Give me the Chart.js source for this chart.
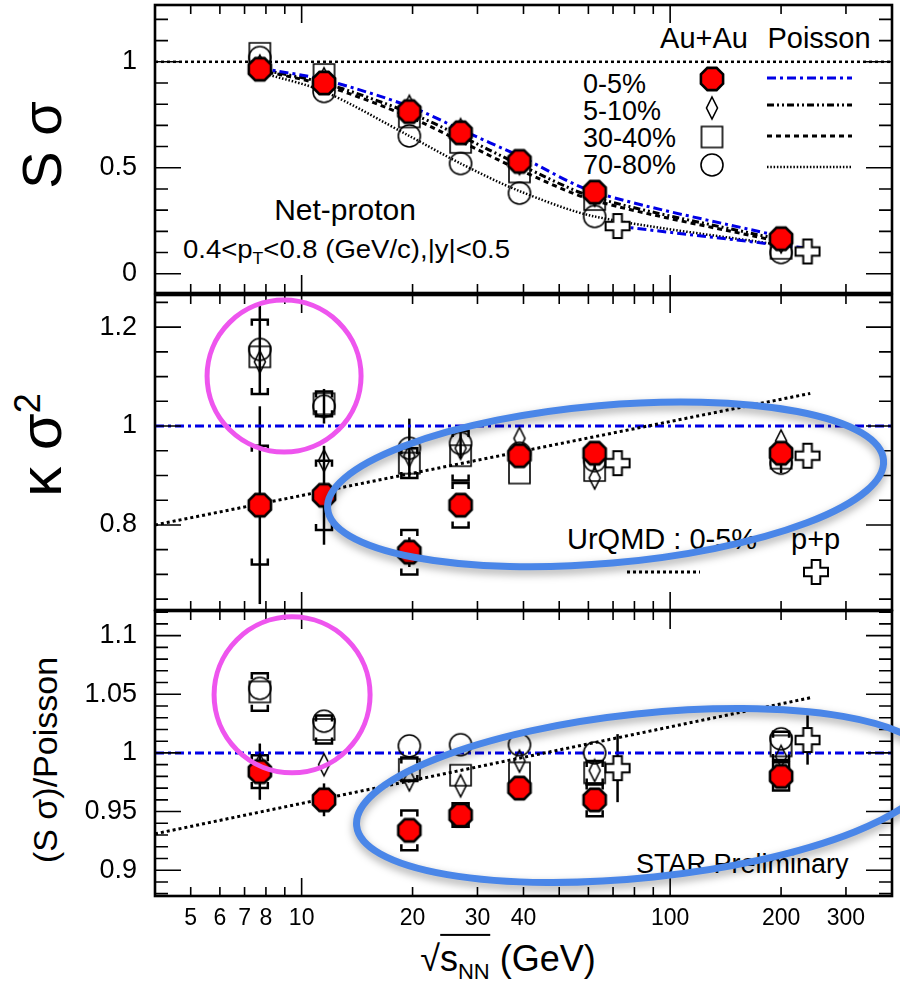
<!DOCTYPE html>
<html>
<head>
<meta charset="utf-8">
<script src="https://cdn.jsdelivr.net/npm/chart.js@4.4.1/dist/chart.umd.min.js"></script>
<style>
  html, body { margin: 0; padding: 0; background: #fff; }
  #wrap { position: relative; width: 900px; height: 992px; overflow: hidden; font-family: "Liberation Sans", Arial, sans-serif; }
  #wrap canvas { position: absolute; left: 0; top: 0; z-index: 1; }
  .t { position: absolute; white-space: nowrap; color: #000; z-index: 0; line-height: 1; }
  .c { transform: translate(-50%, -50%); }
  .l { transform: translate(0, -50%); }
  .r { transform: translate(-50%, -50%) rotate(-90deg); }
</style>
</head>
<body>
<div id="wrap">
  <canvas id="ChartSkew" width="900" height="992"></canvas>
  <canvas id="ChartKurt" width="900" height="992"></canvas>
  <canvas id="ChartRatio" width="900" height="992"></canvas>

  <div class="t c" style="left:704px; top:38px; font-size:29px;">Au+Au</div>
  <div class="t c" style="left:819px; top:38px; font-size:29px;">Poisson</div>
  <div class="t l" style="left:583px; top:84px; font-size:27px;">0-5%</div>
  <div class="t l" style="left:583px; top:111px; font-size:27px;">5-10%</div>
  <div class="t l" style="left:583px; top:138px; font-size:27px;">30-40%</div>
  <div class="t l" style="left:583px; top:165px; font-size:27px;">70-80%</div>
  <div class="t c" style="left:345px; top:210px; font-size:30px;">Net-proton</div>
  <div class="t l" style="left:183px; top:252px; font-size:25px; transform:translate(0,-50%) scaleX(1.1); transform-origin:left center;">0.4&lt;p<sub style="font-size:16px">T</sub>&lt;0.8 (GeV/c),|y|&lt;0.5</div>
  <div class="t l" style="left:567px; top:539px; font-size:29px;">UrQMD : 0-5%</div>
  <div class="t l" style="left:791px; top:539px; font-size:29px;">p+p</div>
  <div class="t l" style="left:636px; top:864px; font-size:27px;">STAR Preliminary</div>

  <div class="t r" style="left:42px; top:145px; font-size:56px;">S σ</div>
  <div class="t r" style="left:40px; top:445px; font-size:60px;">κ σ<sup style="font-size:36px">2</sup></div>
  <div class="t r" style="left:45px; top:760px; font-size:34px;">(S σ)/Poisson</div>
  <div class="t c" style="left:508px; top:962px; font-size:36px;">√<span style="border-top:2px solid #000; padding-top:2px;">s<sub style="font-size:22px">NN</sub></span> (GeV)</div>
</div>

<script>
// beam energies (GeV)
var energies = [7.7, 11.5, 19.6, 27, 39, 62.4, 200];
var ppEnergies = [72, 236];
var xMin = 4, xMax = 400;
var xTickLabels = [5, 6, 7, 8, 10, 20, 30, 40, 100, 200, 300];

// S sigma (top)
var ssCentral = [0.965, 0.90, 0.765, 0.665, 0.53, 0.385, 0.165];
var ss510 = [0.98, 0.92, 0.79, 0.68, 0.52, 0.37, 0.15];
var ss3040 = [1.04, 0.94, 0.74, 0.62, 0.48, 0.35, 0.12];
var ss7080 = [1.02, 0.86, 0.65, 0.52, 0.38, 0.27, 0.10];
var ssPp = [0.225, 0.105];
var ssPoisCentral = [0.97, 0.915, 0.79, 0.68, 0.555, 0.385, 0.175];
var ssPois510 = [0.965, 0.90, 0.76, 0.65, 0.515, 0.36, 0.16];
var ssPois3040 = [0.96, 0.89, 0.74, 0.625, 0.49, 0.345, 0.15];
var ssPois7080 = [0.95, 0.86, 0.65, 0.52, 0.39, 0.27, 0.135];
var ssPoisPp = [0.224, 0.12];
var ssTicks = [0, 0.5, 1];

// kappa sigma^2 (middle)
var ksCentral = [0.84, 0.86, 0.745, 0.84, 0.94, 0.945, 0.945];
var ksCentralStat = [0.2, 0.1, 0.03, 0.02, 0.015, 0.015, 0.015];
var ksCentralSys = [0.12, 0.07, 0.045, 0.045, 0.012, 0.012, 0.012];
var ks510 = [1.13, 0.93, 0.94, 0.955, 0.975, 0.895, 0.97];
var ks3040 = [1.14, 1.045, 0.925, 0.94, 0.905, 0.91, 0.935];
var ks3040Sys = [0.075, 0.025, 0.03, 0.05, 0, 0, 0];
var ks7080 = [1.155, 1.04, 0.955, 0.965, 0.945, 0.93, 0.925];
var ks7080Stat = [0.09, 0.035, 0.06, 0.03, 0.02, 0.02, 0.02];
var ksPp = [0.925, 0.94];
var urqmdEnergies = [4, 240];
var ksUrqmd = [0.80, 1.066];
var ksTicks = [0.8, 1, 1.2];

// (S sigma)/Poisson (bottom)
var rCentral = [0.984, 0.960, 0.934, 0.947, 0.970, 0.960, 0.980];
var rCentralStat = [0.024, 0.014, 0.004, 0.004, 0.004, 0.004, 0.004];
var rCentralSys = [0.014, 0, 0.017, 0.01, 0, 0.014, 0.012];
var r510 = [0.99, 0.99, 0.977, 0.972, 0.993, 0.985, 0.997];
var r3040 = [1.052, 1.02, 0.986, 0.981, 0.983, 0.983, 1.006];
var r3040Sys = [0.016, 0.012, 0.01, 0, 0, 0.01, 0.012];
var r7080 = [1.055, 1.027, 1.006, 1.007, 1.007, 1.0, 1.012];
var rPp = [0.987, 1.011];
var rPpStat = [0.029, 0.021];
var rUrqmd = [0.931, 1.047];
var rTicks = [0.9, 0.95, 1, 1.05, 1.1];

Chart.defaults.font.family = '"Liberation Sans", Arial, sans-serif';

function makeMarker(kind, size) {
  var w = size + 6;
  var c = document.createElement('canvas');
  c.width = w; c.height = w;
  var g = c.getContext('2d');
  var r = size / 2;
  g.translate(w / 2, w / 2);
  g.strokeStyle = '#000';
  g.lineWidth = 1.6;
  g.beginPath();
  if (kind === 'octagon') {
    for (var i = 0; i < 8; i++) {
      var t = Math.PI / 8 + i * Math.PI / 4;
      g.lineTo(r * Math.cos(t), r * Math.sin(t));
    }
    g.closePath();
    g.fillStyle = '#ff0000';
    g.fill();
    g.lineWidth = 2.6;
    g.stroke();
  } else if (kind === 'diamond') {
    g.moveTo(0, -r); g.lineTo(r * 0.5, 0); g.lineTo(0, r); g.lineTo(-r * 0.5, 0);
    g.closePath(); g.stroke();
  } else if (kind === 'square') {
    g.rect(-r, -r, size, size); g.stroke();
  } else if (kind === 'circle') {
    g.arc(0, 0, r, 0, Math.PI * 2); g.stroke();
  } else if (kind === 'cross') {
    var a = r * 0.36;
    g.moveTo(-a, -r); g.lineTo(a, -r); g.lineTo(a, -a); g.lineTo(r, -a); g.lineTo(r, a);
    g.lineTo(a, a); g.lineTo(a, r); g.lineTo(-a, r); g.lineTo(-a, a); g.lineTo(-r, a);
    g.lineTo(-r, -a); g.lineTo(-a, -a); g.closePath();
    g.fillStyle = '#fff'; g.fill();
    g.lineWidth = 2; g.stroke();
  }
  return c;
}

var mRed = makeMarker('octagon', 24);
var mDiamond = makeMarker('diamond', 22);
var mSquare = makeMarker('square', 21);
var mCircle = makeMarker('circle', 22);
var mCross = makeMarker('cross', 24);

var BLUE = '#0000e6';
var dashBlue = [9, 4, 3, 4];
var dashDotDot = [7, 3, 2, 3, 2, 3];
var dashShort = [5, 4];
var dotFine = [1.5, 1.8];

function pts(xs, ys) {
  return xs.map(function (x, i) { return { x: x, y: ys[i] }; });
}
function markerSet(xs, ys, img) {
  return { data: pts(xs, ys), pointStyle: img, pointRadius: 10, showLine: false, borderWidth: 0 };
}
function lineSet(xs, ys, color, dash, width, tension) {
  return { data: pts(xs, ys), showLine: true, pointRadius: 0, borderColor: color, borderDash: dash,
           borderWidth: width, tension: tension || 0, fill: false };
}

var xMinorTicks = [];
[1, 10, 100].forEach(function (d) {
  for (var k = 1; k <= 9; k++) {
    var v = k * d;
    if (v >= xMin && v <= xMax) xMinorTicks.push(v);
  }
});

function drawErrors(chart, specs) {
  var ctx = chart.ctx, sx = chart.scales.x, sy = chart.scales.y, a = chart.chartArea;
  ctx.save();
  ctx.beginPath();
  ctx.rect(a.left, a.top, a.right - a.left, a.bottom - a.top);
  ctx.clip();
  ctx.strokeStyle = '#000';
  ctx.lineWidth = 2.5;
  specs.forEach(function (s) {
    for (var i = 0; i < s.xs.length; i++) {
      var px = sx.getPixelForValue(s.xs[i]);
      if (s.stat && s.stat[i]) {
        ctx.beginPath();
        ctx.moveTo(px, sy.getPixelForValue(s.ys[i] + s.stat[i]));
        ctx.lineTo(px, sy.getPixelForValue(s.ys[i] - s.stat[i]));
        ctx.stroke();
      }
      if (s.sys && s.sys[i]) {
        var top = sy.getPixelForValue(s.ys[i] + s.sys[i]);
        var bot = sy.getPixelForValue(s.ys[i] - s.sys[i]);
        ctx.beginPath();
        ctx.moveTo(px - 8, top + 6); ctx.lineTo(px - 8, top); ctx.lineTo(px + 8, top); ctx.lineTo(px + 8, top + 6);
        ctx.moveTo(px - 8, bot - 6); ctx.lineTo(px - 8, bot); ctx.lineTo(px + 8, bot); ctx.lineTo(px + 8, bot - 6);
        ctx.stroke();
      }
    }
  });
  ctx.restore();
}

function drawFrame(chart, yStep, yMajors) {
  var ctx = chart.ctx, sx = chart.scales.x, sy = chart.scales.y, a = chart.chartArea;
  ctx.save();
  ctx.strokeStyle = '#000';
  ctx.lineWidth = 1.6;
  ctx.beginPath();
  xMinorTicks.forEach(function (v) {
    var p = sx.getPixelForValue(v);
    var len = (v === 10 || v === 100) ? 18 : 9;
    ctx.moveTo(p, a.bottom); ctx.lineTo(p, a.bottom - len);
    ctx.moveTo(p, a.top); ctx.lineTo(p, a.top + len);
  });
  var k0 = Math.ceil(sy.min / yStep - 1e-6), k1 = Math.floor(sy.max / yStep + 1e-6);
  for (var k = k0; k <= k1; k++) {
    var v = k * yStep;
    var major = yMajors.some(function (m) { return Math.abs(m - v) < yStep / 10; });
    var len = major ? 26 : 13;
    var p = sy.getPixelForValue(v);
    ctx.moveTo(a.left, p); ctx.lineTo(a.left + len, p);
    ctx.moveTo(a.right, p); ctx.lineTo(a.right - len, p);
  }
  ctx.stroke();
  ctx.lineWidth = 2.6;
  ctx.strokeRect(a.left, a.top, a.right - a.left, a.bottom - a.top);
  ctx.restore();
}

function drawEllipse(chart, e) {
  var ctx = chart.ctx;
  var cx = chart.scales.x.getPixelForValue(e.x), cy = chart.scales.y.getPixelForValue(e.y);
  ctx.save();
  ctx.shadowColor = e.shadow ? 'rgba(0,0,0,0.35)' : 'transparent';
  ctx.shadowBlur = e.shadow ? 8 : 0;
  ctx.shadowOffsetY = e.shadow ? 4 : 0;
  ctx.strokeStyle = e.color;
  ctx.lineWidth = e.width;
  ctx.beginPath();
  ctx.ellipse(cx, cy, e.rx, e.ry, e.rot * Math.PI / 180, 0, Math.PI * 2);
  ctx.stroke();
  ctx.restore();
}

function legendLine(ctx, x0, x1, y, color, dash, width) {
  ctx.save();
  ctx.strokeStyle = color; ctx.setLineDash(dash); ctx.lineWidth = width;
  ctx.beginPath(); ctx.moveTo(x0, y); ctx.lineTo(x1, y); ctx.stroke();
  ctx.restore();
}
function legendMark(ctx, img, x, y) {
  ctx.drawImage(img, x - img.width / 2, y - img.height / 2);
}

function panelPlugin(yStep, yMajors, errors, extra) {
  return {
    id: 'panel',
    beforeDatasetsDraw: function (chart) { drawErrors(chart, errors); },
    afterDraw: function (chart) {
      drawFrame(chart, yStep, yMajors);
      if (extra) extra(chart);
    }
  };
}

function panelOptions(yMin, yMax, yLabels, padTop, padBottom, showX) {
  return {
    responsive: false,
    animation: false,
    events: [],
    layout: { autoPadding: false, padding: { left: 0, right: 8, top: padTop, bottom: padBottom } },
    plugins: { legend: { display: false }, title: { display: false }, tooltip: { enabled: false } },
    scales: {
      x: {
        type: 'logarithmic', min: xMin, max: xMax, display: showX,
        grid: { display: false, drawTicks: false }, border: { display: false },
        afterBuildTicks: function (s) { s.ticks = xTickLabels.map(function (v) { return { value: v }; }); },
        afterFit: function (s) { s.height = showX ? 40 : 0; s.paddingLeft = 0; s.paddingRight = 0; },
        ticks: { autoSkip: false, maxRotation: 0, minRotation: 0, padding: 9, color: '#000',
                 font: { size: 23 }, callback: function (v) { return String(v); } }
      },
      y: {
        type: 'linear', min: yMin, max: yMax,
        grid: { display: false, drawTicks: true, tickLength: 18 }, border: { display: false },
        afterBuildTicks: function (s) { s.ticks = yLabels.map(function (v) { return { value: v }; }); },
        afterFit: function (s) { s.width = 155; s.paddingTop = 0; s.paddingBottom = 0; },
        ticks: { padding: 0, color: '#000', font: { size: 27 },
                 callback: function (v) { return String(+v.toFixed(2)); } }
      }
    }
  };
}

function generarPanelSkew() {
  var ctx = document.getElementById('ChartSkew').getContext('2d');
  new Chart(ctx, {
    type: 'scatter',
    data: {
      datasets: [
        markerSet(energies, ssCentral, mRed),
        markerSet(ppEnergies, ssPp, mCross),
        markerSet(energies, ss510, mDiamond),
        markerSet(energies, ss3040, mSquare),
        markerSet(energies, ss7080, mCircle),
        lineSet(energies, ssPoisCentral, BLUE, dashBlue, 3, 0.3),
        lineSet(ppEnergies, ssPoisPp, BLUE, dashBlue, 3, 0),
        lineSet(energies, ssPois510, '#000', dashDotDot, 3, 0.3),
        lineSet(energies, ssPois3040, '#000', dashShort, 3, 0.3),
        lineSet(energies, ssPois7080, '#000', dotFine, 2.5, 0.3),
        lineSet([xMin, xMax], [1, 1], '#000', [3, 3], 2.5, 0)
      ]
    },
    options: panelOptions(-0.091, 1.268, ssTicks, 5, 992 - 293, false),
    plugins: [panelPlugin(0.1, ssTicks, [], function (chart) {
      var c = chart.ctx;
      legendMark(c, mRed, 712, 79);
      legendMark(c, mDiamond, 712, 108);
      legendMark(c, mSquare, 712, 137);
      legendMark(c, mCircle, 712, 165);
      legendLine(c, 767, 852, 78, BLUE, dashBlue, 3);
      legendLine(c, 767, 852, 105, '#000', dashDotDot, 3);
      legendLine(c, 767, 852, 136, '#000', dashShort, 3);
      legendLine(c, 767, 852, 167, '#000', dotFine, 2.5);
    })]
  });
}

function generarPanelKurt() {
  var ctx = document.getElementById('ChartKurt').getContext('2d');
  new Chart(ctx, {
    type: 'scatter',
    data: {
      datasets: [
        markerSet(energies, ksCentral, mRed),
        markerSet(ppEnergies, ksPp, mCross),
        markerSet(energies, ks510, mDiamond),
        markerSet(energies, ks3040, mSquare),
        markerSet(energies, ks7080, mCircle),
        lineSet(urqmdEnergies, ksUrqmd, '#000', [3, 3], 3, 0),
        lineSet([xMin, xMax], [1, 1], BLUE, dashBlue, 3, 0)
      ]
    },
    options: panelOptions(0.628, 1.265, ksTicks, 295, 992 - 610, false),
    plugins: [panelPlugin(0.05, ksTicks, [
      { xs: energies, ys: ks7080, stat: ks7080Stat },
      { xs: energies, ys: ks3040, sys: ks3040Sys },
      { xs: energies, ys: ksCentral, stat: ksCentralStat, sys: ksCentralSys }
    ], function (chart) {
      var c = chart.ctx;
      legendLine(c, 627, 700, 572, '#000', [3, 3], 3);
      legendMark(c, mCross, 816, 572);
      drawEllipse(chart, { x: 8.96, y: 1.101, rx: 77, ry: 76, rot: 0, color: '#ee55ee', width: 5 });
      drawEllipse(chart, { x: 66.8, y: 0.882, rx: 279, ry: 79, rot: -5, color: '#4a86e8', width: 7, shadow: true });
    })]
  });
}

function generarPanelRatio() {
  var ctx = document.getElementById('ChartRatio').getContext('2d');
  new Chart(ctx, {
    type: 'scatter',
    data: {
      datasets: [
        markerSet(energies, rCentral, mRed),
        markerSet(ppEnergies, rPp, mCross),
        markerSet(energies, r510, mDiamond),
        markerSet(energies, r3040, mSquare),
        markerSet(energies, r7080, mCircle),
        lineSet(urqmdEnergies, rUrqmd, '#000', [3, 3], 3, 0),
        lineSet([xMin, xMax], [1, 1], BLUE, dashBlue, 3, 0)
      ]
    },
    options: panelOptions(0.878, 1.121, rTicks, 611, 992 - 896 - 40, true),
    plugins: [panelPlugin(0.01, rTicks, [
      { xs: energies, ys: r3040, sys: r3040Sys },
      { xs: ppEnergies, ys: rPp, stat: rPpStat },
      { xs: energies, ys: rCentral, stat: rCentralStat, sys: rCentralSys }
    ], function (chart) {
      drawEllipse(chart, { x: 9.42, y: 1.0495, rx: 78, ry: 78, rot: 0, color: '#ee55ee', width: 5 });
      drawEllipse(chart, { x: 85.5, y: 0.9637, rx: 290, ry: 82, rot: -6, color: '#4a86e8', width: 7, shadow: true });
    })]
  });
}

generarPanelSkew();
generarPanelKurt();
generarPanelRatio();
</script>
</body>
</html>
